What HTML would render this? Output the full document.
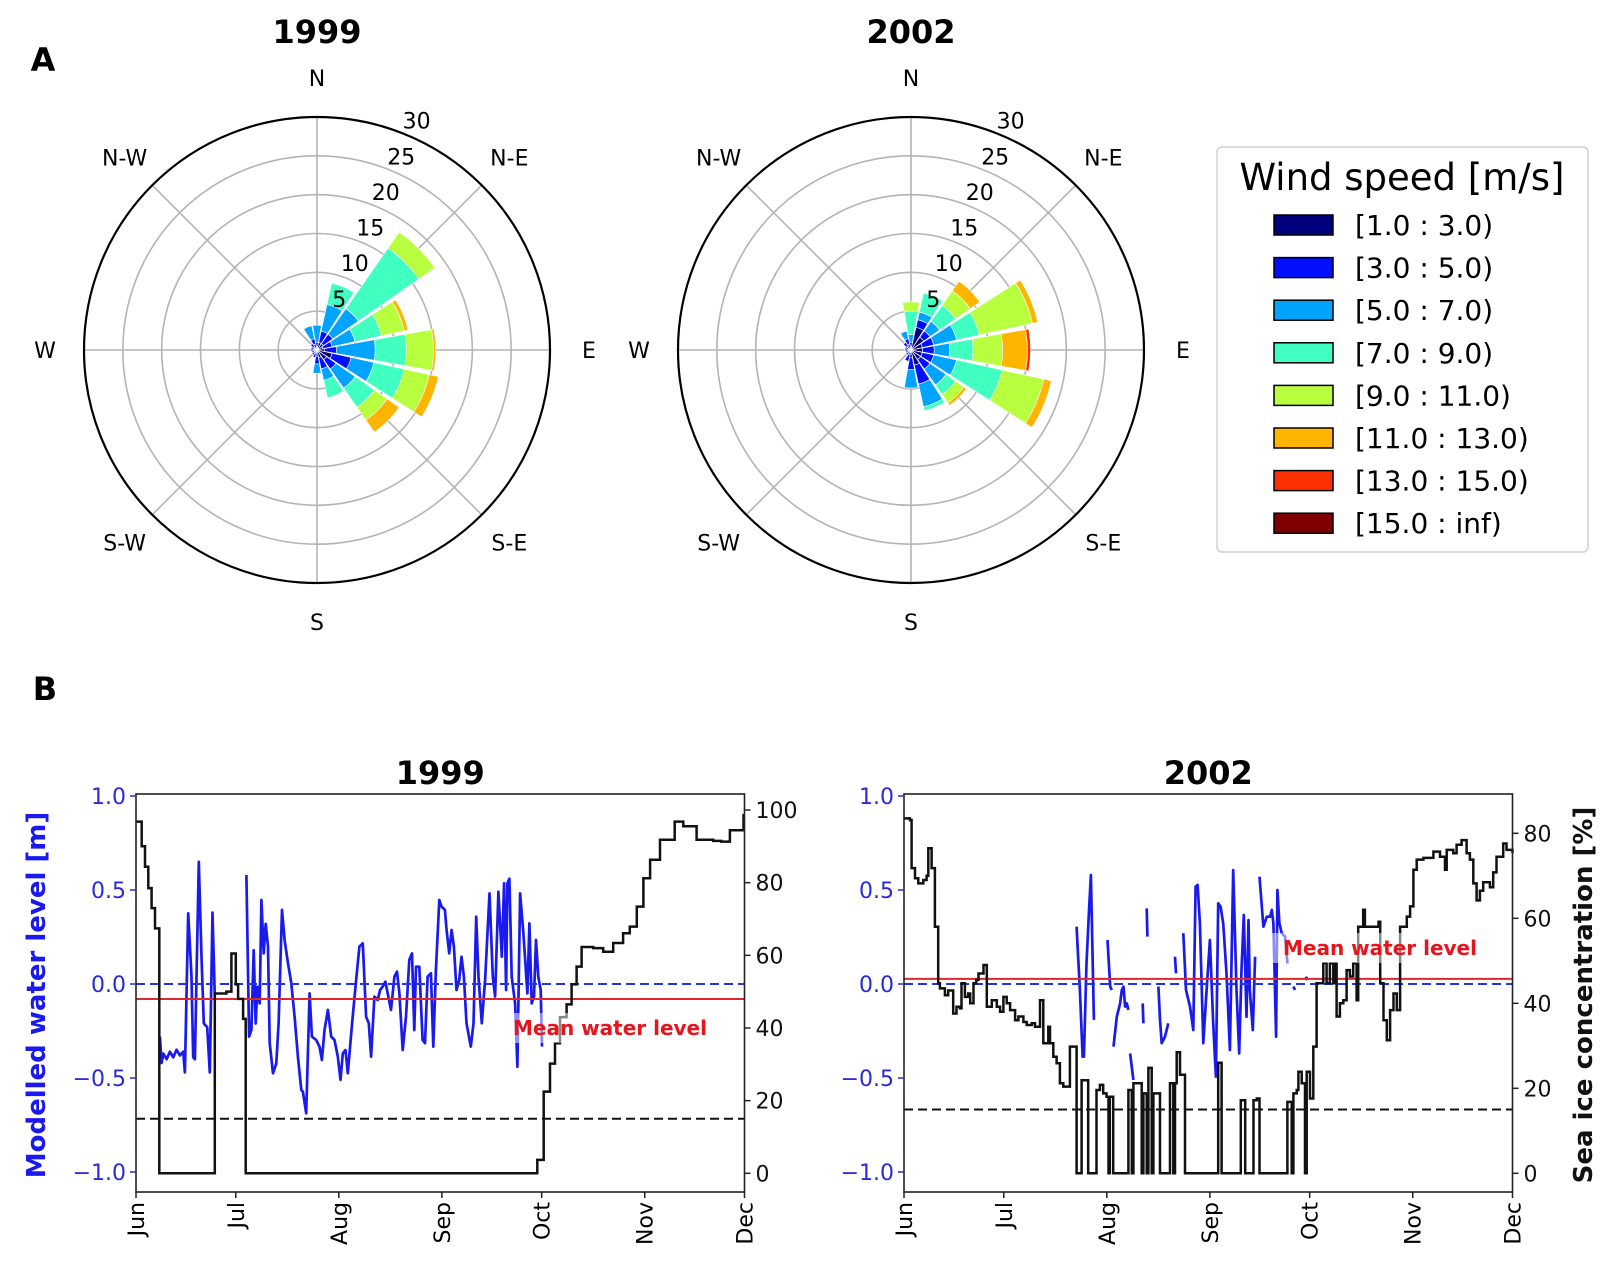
<!DOCTYPE html>
<html><head><meta charset="utf-8">
<style>
html,body{margin:0;padding:0;background:#fff;}
svg{display:block;font-family:"DejaVu Sans","Liberation Sans",sans-serif;}
</style></head>
<body>
<svg id="fig" width="1606" height="1265" viewBox="0 0 1606 1265" xmlns="http://www.w3.org/2000/svg">
<rect width="1606" height="1265" fill="#fff"/>
<g id="topgroup"></g>
<g id="bottomgroup"></g>
</svg>
<script>
// ---------- Wind rose data ----------
const binLabels = ["[1.0 : 3.0)","[3.0 : 5.0)","[5.0 : 7.0)","[7.0 : 9.0)","[9.0 : 11.0)","[11.0 : 13.0)","[13.0 : 15.0)","[15.0 : inf)"];
const binColors = ["#00007f","#0010ff","#00a4ff","#40ffc0","#b8ff40","#ffb400","#ff3000","#7f0000"];
const dirLabels = ["N","N-E","E","S-E","S","S-W","W","N-W"];
const radialTicks = [5,10,15,20,25,30];
// cumulative frequency (%) per sector (16 sectors from N clockwise), per speed bin
const rose1999 = [
 [0.5,1,3.2,3.2,3.2,3.2,3.2,3.2],
 [1,2.5,6,8.8,8.8,8.8,8.8,8.8],
 [1,2.5,6.5,16,18.5,18.5,18.5,18.5],
 [0.8,2,5,8.5,11.5,12,12,12],
 [1,2.5,7.5,11.5,15,15.3,15.3,15.3],
 [2,4.5,7.5,11.5,14.8,16,16,16],
 [1.5,3,6,9,11,12.9,12.9,12.9],
 [1,2.5,4,6.3,6.3,6.3,6.3,6.3],
 [0.8,1.8,3,3,3,3,3,3],
 [0.5,1,1,1,1,1,1,1],
 [0.4,0.8,0.8,0.8,0.8,0.8,0.8,0.8],
 [0.4,0.7,0.7,0.7,0.7,0.7,0.7,0.7],
 [0.4,0.8,0.8,0.8,0.8,0.8,0.8,0.8],
 [0.4,0.8,0.8,0.8,0.8,0.8,0.8,0.8],
 [0.5,1,1,1,1,1,1,1],
 [0.8,1.5,3.2,3.2,3.2,3.2,3.2,3.2]
];
const rose2002 = [
 [0.5,1,2,5,6.2,6.2,6.2,6.2],
 [3,4,5,7.5,7.5,7.5,7.5,7.5],
 [2,3,4.5,7,9.3,10.8,10.8,10.8],
 [1.5,3,6,9,16,16.7,16.7,16.7],
 [1.5,3,5,8,11.8,15,15.4,15.4],
 [1.5,3,6,12,17.5,18.5,18.5,18.5],
 [1.5,3,5.5,7,8.3,8.7,8.7,8.7],
 [2,4.5,7.5,8,8,8,8,8],
 [1,2.5,4.9,4.9,4.9,4.9,4.9,4.9],
 [0.6,1.5,1.5,1.5,1.5,1.5,1.5,1.5],
 [0.4,0.8,0.8,0.8,0.8,0.8,0.8,0.8],
 [0.4,0.7,0.7,0.7,0.7,0.7,0.7,0.7],
 [0.4,0.8,0.8,0.8,0.8,0.8,0.8,0.8],
 [0.4,0.8,0.8,0.8,0.8,0.8,0.8,0.8],
 [0.6,1.2,1.2,1.2,1.2,1.2,1.2,1.2],
 [0.8,1.5,2.5,2.5,2.5,2.5,2.5,2.5]
];

// ---------- Time series data ----------
const monthLabels = ["Jun","Jul","Aug","Sep","Oct","Nov","Dec"];
const monthDays = [0,30,61,92,122,153,183];
const waterTicks = [1.0,0.5,0.0,-0.5,-1.0];
const waterTickLabels = ["1.0","0.5","0.0","\u22120.5","\u22121.0"];
const iceTicks1999 = [0,20,40,60,80,100];
const iceTicks2002 = [0,20,40,60,80];
const mean1999 = -0.08;
const mean2002 = 0.027;
const iceThreshold = 15;

const water1999 = [
[7.2,-0.28],[7.7,-0.42],[8.2,-0.37],[9.2,-0.40],[10.2,-0.36],[11.2,-0.39],[12.2,-0.35],[13.2,-0.38],[14.2,-0.36],[14.7,-0.47],[15.7,0.376],[16.7,0.04],[17.2,-0.39],[17.7,-0.40],[18.9,0.65],[19.7,0.145],[20.4,-0.21],[21.4,-0.23],[22.2,-0.47],[23.0,0.38],[23.7,-0.07],
null,
[33.2,0.58],[34.0,-0.28],[34.7,-0.245],[35.4,0.18],[36.0,-0.21],[36.5,-0.014],[37.2,-0.103],[37.7,0.447],[38.4,0.163],[39.0,0.32],[39.7,0.199],[40.2,-0.315],[41.2,-0.475],[42.2,-0.422],[42.9,-0.209],[43.9,0.394],[44.7,0.234],[45.7,0.11],[46.7,0.004],[47.7,-0.174],[48.7,-0.386],[49.7,-0.564],[50.2,-0.573],[51.2,-0.688],[52.2,-0.05],[52.9,-0.28],[54.2,-0.298],[55.2,-0.333],[55.9,-0.404],[56.7,-0.245],[57.7,-0.138],[58.7,-0.28],[59.7,-0.298],[60.7,-0.386],[61.5,-0.51],[62.2,-0.369],[63.0,-0.351],[63.7,-0.475],[65.0,-0.209],[66.0,-0.014],[67.2,0.199],[68.2,0.216],[69.2,-0.174],[70.0,-0.209],[70.7,-0.386],[71.7,-0.067],[72.7,-0.085],[73.4,-0.032],[74.2,-0.014],[75.0,0.012],[75.7,-0.05],[76.7,-0.138],[77.7,0.039],[78.5,0.066],[79.2,-0.05],[80.2,-0.351],[81.2,-0.174],[82.2,0.128],[83.0,0.163],[83.7,-0.245],[84.2,0.092],[85.2,0.092],[86.2,-0.298],[86.9,-0.315],[87.7,0.039],[88.7,0.057],[89.4,-0.333],[90.2,0.075],[91.2,0.447],[91.9,0.411],[92.9,0.394],[93.4,0.287],[94.2,0.163],[94.9,0.287],[95.6,0.199],[96.4,-0.032],[97.2,0.021],[97.9,0.145],[98.6,0.039],[99.4,-0.209],[100.7,-0.333],[101.5,-0.209],[102.3,0.358],[103.0,0.039],[104.0,-0.209],[105.0,0.021],[106.3,0.482],[107.3,0.039],[108.0,-0.067],[109.0,0.491],[110.0,0.145],[110.7,0.536],[111.3,-0.032],[111.7,0.536],[112.3,0.56],[113.0,0.039],[114.0,-0.103],[114.7,-0.44],[115.5,0.482],[116.5,0.27],[117.7,-0.05],[118.3,0.323],[119.0,-0.103],[119.7,-0.067],[120.3,0.234],[121.0,0.039],[121.7,-0.032],[122.1,-0.333]
];
const ice1999 = [
[0,96.8],[1.7,90],[2.7,84.4],[3.7,78.5],[4.7,73],[5.7,67.4],[7.0,0],[23.7,49.5],[27.2,50],[28.7,60.5],[30.0,52],[30.7,48],[32.2,42.5],[33.0,0],[120.7,3.7],[122.6,22.5],[124.5,30.2],[126,35.8],[127.5,43],[129.5,46.5],[131,52],[132.5,56.9],[134,62.3],[137.5,62],[140.5,61],[143.5,63.4],[146.5,66.1],[148.5,67.9],[150.6,73.4],[152.6,81.2],[154.6,86.3],[157.6,91.8],[162,96.8],[164.6,95.5],[168.6,91.8],[173.6,91.5],[176,91.3],[178.6,94.4],[182.7,98.6],[183,98.6]
];
const water2002 = [
[51.9,0.305],[52.2,0.199],[52.9,-0.032],[53.7,-0.386],[54.1,-0.386],[54.9,0.11],[55.7,0.411],[56.2,0.58],[57.1,-0.191],null,
[61.2,0.234],[62.0,-0.014],[62.5,-0.032],null,
[63.0,-0.333],[64.0,-0.174],[65.0,-0.103],[65.5,-0.032],[66.0,-0.014],[66.5,-0.12],[67.0,-0.103],[67.5,-0.138],null,
[68.0,-0.369],[69.0,-0.51],null,
[71.8,-0.103],[72.0,-0.209],null,
[73.0,0.402],[73.2,0.252],null,
[76.5,-0.014],[77.0,-0.191],[77.5,-0.315],[78.5,-0.28],[79.5,-0.209],null,
[81.5,0.145],[81.8,0.057],null,
[84.0,0.27],[84.8,-0.032],[86.0,-0.12],[87.0,-0.245],[87.7,0.518],[88.3,0.527],[89.0,0.323],[90.0,-0.315],[91.0,-0.032],[92.0,0.234],[93.0,-0.209],[93.8,-0.493],[94.5,0.429],[95.2,0.411],[96.0,0.323],[97.0,0.057],[98.0,-0.351],[99.0,0.606],[100.0,-0.032],[100.8,-0.369],[101.5,0.075],[102.2,0.367],[103.0,-0.174],[103.6,0.34],[104.0,-0.032],[104.9,-0.245],[105.6,0.145],null,
[106.9,0.571],[108.1,0.305],[109.1,0.358],[110.1,0.358],[110.6,0.394],[111.1,0.323],[111.9,-0.28],[112.3,0.5],[112.9,0.323],[113.6,0.27],[114.6,0.252],[115.3,0.11],null,
[117.1,-0.014],[117.6,-0.032],null,
[120.9,0.039],[121.3,0.021]
];
const ice2002 = [
[0,83.5],[1.8,83.1],[2.3,71.8],[3.3,69.4],[4.3,68.2],[5.8,69],[6.8,70],[7.3,76.5],[8.3,71.8],[9.3,58],[10.3,44.7],[10.8,43.5],[12.3,41.9],[13.3,43],[14.8,37.6],[15.8,39.2],[16.8,38.8],[17.3,44.7],[18.3,41.5],[19.3,42.3],[19.9,40],[20.9,44.7],[21.7,45.5],[22.4,47],[23.4,47],[23.9,49],[24.9,39.2],[26.4,40.7],[27.9,39.2],[28.9,38],[29.9,41.5],[30.9,40],[31.9,38.4],[33.4,36],[34.4,36.9],[35.9,35.6],[36.9,34.9],[38.4,35.3],[39.4,34.5],[40.9,40.7],[41.9,30.6],[42.4,30.6],[43.4,34.5],[43.9,30.6],[44.9,27.4],[45.9,25.9],[46.9,21.2],[47.9,20.4],[48.9,20.4],[49.9,29.8],[51.9,0],[53.4,21.9],[55.4,0],[57.9,19.6],[58.9,20.8],[59.9,18.8],[60.9,18],[61.5,0],[61.9,18],[62.9,0],[67.5,19.6],[68.5,0],[69,21.2],[71.5,0],[72,18.8],[73,0],[73.5,24.8],[74.5,0],[75,18.8],[77,0],[80,21.2],[81,0],[81.5,21.2],[82,28.5],[83,23.2],[84.5,0],[94.5,26],[95.5,0],[101.3,17.2],[102.6,0],[105.1,17.2],[106.1,17.6],[106.9,0],[115.3,16.8],[116.6,0],[117.1,18.8],[118.1,19.6],[118.6,23.9],[119.6,21.2],[120.6,0],[121.1,23.9],[122.1,17.6],[123.1,29.8],[124.1,44.7],[126.1,49.4],[127.1,44.7],[128.1,49.4],[129.1,44.7],[129.6,49.4],[130.1,36.9],[131.1,40],[132.1,40.7],[133.1,47.8],[134.1,46.3],[135.1,49.4],[136.1,40.7],[136.6,58],[138.1,62],[138.6,58],[142.7,59.2],[143.2,44.7],[144.2,36],[145.2,31.3],[146.2,38.4],[147.2,42.3],[148.2,38.4],[149.2,58],[151.2,60.4],[152.2,62.8],[153.2,71.4],[154.2,73.8],[156.2,74.2],[159.2,75.7],[161.2,74.5],[162.7,71.4],[163.2,76.1],[165.2,75.3],[166.2,77.3],[167.7,78.4],[169.2,75.3],[170.2,73.8],[171.2,68.2],[172.2,64.2],[173.2,66.5],[174.2,68.5],[176.2,67.3],[177.2,70.8],[178.2,74.5],[180.2,77.6],[181.2,76.1],[183,75.3]
];

const NS = "http://www.w3.org/2000/svg";
function mk(parent, tag, attrs, text){
  const e = document.createElementNS(NS, tag);
  for (const k in attrs) e.setAttribute(k, attrs[k]);
  if (text !== undefined) e.textContent = text;
  parent.appendChild(e);
  return e;
}
const topG = document.getElementById('topgroup');
const botG = document.getElementById('bottomgroup');

let t = mk(topG,'text',{x:43,y:71,'font-size':32,'font-weight':'bold','text-anchor':'middle'},'A');


t = mk(botG,'text',{x:45,y:700,'font-size':32,'font-weight':'bold','text-anchor':'middle'},'B');



function drawRose(cx, cy, data, year){
  const R = 233, rMax = 30;
  const rs = v => v * R / rMax;
  const g = mk(topG,'g',{});
  
  
  const tt = mk(g,'text',{x:cx,y:43,'font-size':32,'font-weight':'bold','text-anchor':'middle'},String(year));
  
  
  radialTicks.forEach(v=>{
    if (v < rMax){
      const c = mk(g,'circle',{cx:cx,cy:cy,r:rs(v),fill:'none',stroke:'#b4b4b4','stroke-width':1.6});
      
      
    }
  });
  for (let i=0;i<8;i++){
    const a = i*Math.PI/4;
    const l = mk(g,'line',{x1:cx,y1:cy,x2:cx+R*Math.sin(a),y2:cy-R*Math.cos(a),stroke:'#b4b4b4','stroke-width':1.6});
    
    
  }
  const nS = data.length, w = 2*Math.PI/nS, half = w*0.45;
  data.forEach((cum, s)=>{
    const th = s*w;
    let prev = 0;
    cum.forEach((v, b)=>{
      if (v > prev + 1e-9){
        const r0 = rs(prev), r1 = rs(v);
        const a0 = th-half, a1 = th+half;
        const P = (r,a)=>[cx+r*Math.sin(a), cy-r*Math.cos(a)];
        const p1=P(r0,a0),p2=P(r1,a0),p3=P(r1,a1),p4=P(r0,a1);
        const d = `M${p1[0]},${p1[1]} L${p2[0]},${p2[1]} A${r1},${r1} 0 0 1 ${p3[0]},${p3[1]} L${p4[0]},${p4[1]} A${r0},${r0} 0 0 0 ${p1[0]},${p1[1]} Z`;
        const p = mk(g,'path',{d:d,fill:binColors[b],stroke:'#fff','stroke-width':0.6});
        
        
      }
      prev = Math.max(prev, v);
    });
  });
  const oc = mk(g,'circle',{cx:cx,cy:cy,r:R,fill:'none',stroke:'#000','stroke-width':2.2});
  
  
  const la = 23.5*Math.PI/180;
  radialTicks.forEach(v=>{
    const r = rs(v)+17;
    const lt = mk(g,'text',{x:cx+r*Math.sin(la),y:cy-r*Math.cos(la)+8,'font-size':22,'text-anchor':'middle'},String(v));
    
    
  });
  dirLabels.forEach((s,i)=>{
    const a = i*Math.PI/4;
    const r = 272;
    const dl = mk(g,'text',{x:cx+r*Math.sin(a),y:cy-r*Math.cos(a)+8,'font-size':22,'text-anchor':'middle'},s);
    
    
  });
}
drawRose(317,350,rose1999,1999);
drawRose(911,350,rose2002,2002);

(function(){
  const g = mk(topG,'g',{});
  
  
  const fr = mk(g,'rect',{x:1217,y:147,width:371,height:405,rx:5,fill:'#fff',stroke:'#d0d0d0','stroke-width':1.5});
  
  
  const lt = mk(g,'text',{x:1402,y:190,'font-size':37,'text-anchor':'middle'},'Wind speed [m/s]');
  
  
  binLabels.forEach((s,i)=>{
    const cy = 225 + i*42.6;
    const r = mk(g,'rect',{x:1274,y:cy-10,width:59,height:20,fill:binColors[i],stroke:'#000','stroke-width':1.5});
    
    
    const tx = mk(g,'text',{x:1355,y:cy+10,'font-size':28},s);
    
    
  });
})();

function drawTS(opt){
  const x0 = opt.x0, x1 = x0+608.5, yT = 794, yB = 1192;
  const xs = d => x0 + (x1-x0)*d/183;
  const yw = v => 984 - 188*v;
  const yi = v => 1173.3 - opt.iceScale*v;
  const g = mk(botG,'g',{});
  
  
  const tt = mk(g,'text',{x:(x0+x1)/2,y:784,'font-size':32,'font-weight':'bold','text-anchor':'middle'},String(opt.year));
  
  
  let d = '', pen = false;
  opt.water.forEach(p=>{
    if (p===null){pen=false;return;}
    d += (pen?'L':'M') + xs(p[0]).toFixed(1)+','+yw(p[1]).toFixed(1)+' ';
    pen = true;
  });
  const wl = mk(g,'path',{d:d,fill:'none',stroke:'#1a1aee','stroke-width':2.7,'stroke-linejoin':'round'});
  
  
  const zl = mk(g,'line',{x1:x0,x2:x1,y1:yw(0),y2:yw(0),stroke:'#2233ee','stroke-width':2,'stroke-dasharray':'9,5'});
  
  
  const ml = mk(g,'line',{x1:x0,x2:x1,y1:yw(opt.mean),y2:yw(opt.mean),stroke:'#e0282c','stroke-width':2});
  
  
  let di = '';
  opt.ice.forEach((p,i)=>{
    if (i===0) di += 'M'+xs(p[0]).toFixed(1)+','+yi(p[1]).toFixed(1)+' ';
    else di += 'H'+xs(p[0]).toFixed(1)+' V'+yi(p[1]).toFixed(1)+' ';
  });
  const il = mk(g,'path',{d:di,fill:'none',stroke:'#111','stroke-width':2.5});
  
  
  const th = mk(g,'line',{x1:x0,x2:x1,y1:yi(iceThreshold),y2:yi(iceThreshold),stroke:'#111','stroke-width':2,'stroke-dasharray':'9,5'});
  
  
  const bx = mk(g,'rect',{x:opt.lx-108,y:opt.ly-15,width:216,height:30,fill:'#fff','fill-opacity':0.5});
  
  
  const mt = mk(g,'text',{x:opt.lx,y:opt.ly+7,'font-size':20,'font-weight':'bold',fill:'#e8141c','text-anchor':'middle'},'Mean water level');
  
  
  const fr = mk(g,'rect',{x:x0,y:yT,width:x1-x0,height:yB-yT,fill:'none',stroke:'#222','stroke-width':1.6});
  
  
  waterTicks.forEach((v,i)=>{
    const y = yw(v);
    mk(g,'line',{x1:x0-6,x2:x0,y1:y,y2:y,stroke:'#2a2ad8','stroke-width':1.5});
    const lt = mk(g,'text',{x:x0-10,y:y+8,'font-size':22,fill:'#2a2ad8','text-anchor':'end'},waterTickLabels[i]);
    
    
  });
  opt.iceTicks.forEach(v=>{
    const y = yi(v);
    mk(g,'line',{x1:x1,x2:x1+6,y1:y,y2:y,stroke:'#222','stroke-width':1.5});
    const lt = mk(g,'text',{x:x1+11,y:y+8,'font-size':22,fill:'#111'},String(v));
    
    
  });
  monthDays.forEach((dd,i)=>{
    const x = xs(dd);
    mk(g,'line',{x1:x,x2:x,y1:yB,y2:yB+6,stroke:'#222','stroke-width':1.5});
    const lt = mk(g,'text',{x:0,y:0,'font-size':22,'text-anchor':'end',transform:`translate(${x+8},${yB+10}) rotate(-90)`},monthLabels[i]);
    
    
  });
}
drawTS({x0:136,year:1999,water:water1999,ice:ice1999,mean:mean1999,iceScale:3.633,iceTicks:iceTicks1999,lx:610,ly:1028});
drawTS({x0:904,year:2002,water:water2002,ice:ice2002,mean:mean2002,iceScale:4.25,iceTicks:iceTicks2002,lx:1380,ly:948});

let yl = mk(botG,'text',{x:0,y:0,'font-size':26,'font-weight':'bold',fill:'#1a1aee','text-anchor':'middle',transform:'translate(45,995) rotate(-90)'},'Modelled water level [m]');


yl = mk(botG,'text',{x:0,y:0,'font-size':26,'font-weight':'bold',fill:'#111','text-anchor':'middle',transform:'translate(1592,995) rotate(-90)'},'Sea ice concentration [%]');


</script>
</body></html>
